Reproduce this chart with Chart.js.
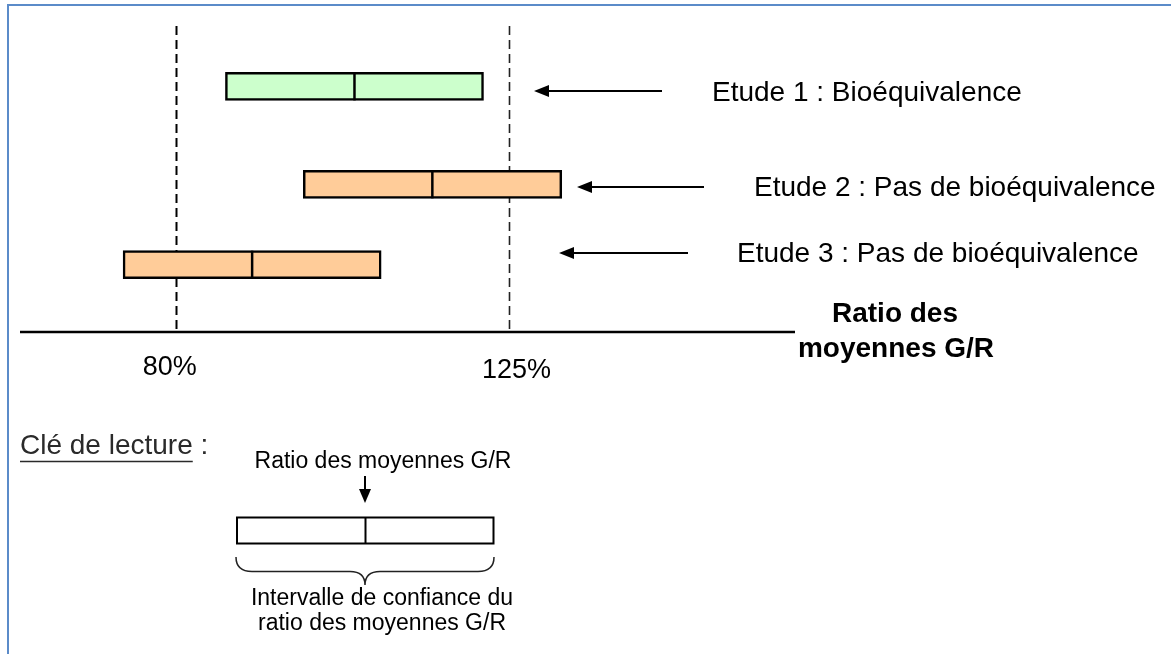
<!DOCTYPE html>
<html><head><meta charset="utf-8">
<script src="https://cdn.jsdelivr.net/npm/chart.js@4.4.1/dist/chart.umd.min.js"></script>
<style>html,body{margin:0;padding:0;background:#fff;overflow:hidden}
#wrap{position:relative;width:1171px;height:654px}</style></head>
<body><div id="wrap"><canvas id="c" width="1171" height="654"></canvas></div>
<script>
// ---- data ----
const studies = ['Etude 1 : Bioéquivalence', 'Etude 2 : Pas de bioéquivalence', 'Etude 3 : Pas de bioéquivalence'];
const ciLow = [86.7, 97.2, 72.9];
const ciHigh = [121.5, 132.05, 107.7];
const ratio = [104.1, 114.6, 90.3];
const limits = [80, 125];
const limitLabels = ['80%', '125%'];
const axisTitle = ['Ratio des', 'moyennes G/R'];
const keyTitle = 'Clé de lecture';
const keyRatioLabel = 'Ratio des moyennes G/R';
const keyCILabel = ['Intervalle de confiance du', 'ratio des moyennes G/R'];

// ---- layout / style ----
const fills = ['#ccffcc', '#ffcc99', '#ffcc99'];
const rowPos = [0.79, 2.07, 3.12];
const FONT = '"Liberation Sans", Arial, sans-serif';
const arrowLayout = [
  {tip: 534, tail: 662, y: 91, tx: 712, ty: 100.5},
  {tip: 577, tail: 704, y: 187, tx: 754, ty: 196},
  {tip: 559, tail: 688, y: 253, tx: 737, ty: 261.5}
];
const limitLabelOffset = [{dx: -6, y: 375}, {dx: 7, y: 378}];

function arrowLeft(ctx, tip, tail, y) {
  ctx.save();
  ctx.strokeStyle = '#000'; ctx.fillStyle = '#000'; ctx.lineWidth = 2;
  ctx.beginPath(); ctx.moveTo(tail, y); ctx.lineTo(tip + 12, y); ctx.stroke();
  ctx.beginPath(); ctx.moveTo(tip, y); ctx.lineTo(tip + 15, y - 6); ctx.lineTo(tip + 15, y + 6); ctx.closePath(); ctx.fill();
  ctx.restore();
}

const deco = {
  id: 'deco',
  beforeDatasetsDraw(chart) {
    const ctx = chart.ctx, xs = chart.scales.x, ca = chart.chartArea;
    ctx.save();
    limits.forEach((v, i) => {
      const x = Math.round(xs.getPixelForValue(v)) + 0.5;
      ctx.beginPath();
      ctx.setLineDash([9, 5]);
      ctx.lineWidth = i === 0 ? 2 : 1.6;
      ctx.strokeStyle = i === 0 ? '#000' : '#222';
      ctx.moveTo(x, ca.top); ctx.lineTo(x, ca.bottom);
      ctx.stroke();
    });
    ctx.restore();
  },
  afterDatasetsDraw(chart) {
    const ctx = chart.ctx, xs = chart.scales.x, ca = chart.chartArea;
    const meta = chart.getDatasetMeta(0);
    ctx.save();
    // ratio mid lines
    meta.data.forEach((el, i) => {
      const x = xs.getPixelForValue(ratio[i]);
      ctx.beginPath(); ctx.lineWidth = 2.5; ctx.strokeStyle = '#000';
      ctx.moveTo(x, el.y - el.height / 2); ctx.lineTo(x, el.y + el.height / 2); ctx.stroke();
    });
    // axis line
    ctx.beginPath(); ctx.lineWidth = 2.6; ctx.strokeStyle = '#000';
    ctx.moveTo(ca.left, ca.bottom); ctx.lineTo(ca.right, ca.bottom); ctx.stroke();
    // limit labels
    ctx.fillStyle = '#000'; ctx.textAlign = 'center'; ctx.textBaseline = 'alphabetic';
    ctx.font = '27px ' + FONT;
    limits.forEach((v, i) => {
      ctx.fillText(limitLabels[i], xs.getPixelForValue(v) + limitLabelOffset[i].dx, limitLabelOffset[i].y);
    });
    // axis title
    ctx.font = 'bold 28px ' + FONT;
    ctx.fillText(axisTitle[0], 895, 322);
    ctx.fillText(axisTitle[1], 896, 357);
    // arrows + study labels
    ctx.textAlign = 'left';
    ctx.font = '28px ' + FONT;
    arrowLayout.forEach((a, i) => {
      arrowLeft(ctx, a.tip, a.tail, a.y);
      ctx.fillStyle = '#000';
      ctx.fillText(studies[i], a.tx, a.ty);
    });
    // key
    ctx.fillStyle = '#2a2a2a';
    ctx.font = '28px ' + FONT;
    ctx.fillText(keyTitle, 20, 454);
    const w = ctx.measureText(keyTitle).width;
    ctx.fillText(' :', 20 + w, 454);
    ctx.beginPath(); ctx.lineWidth = 1.5; ctx.strokeStyle = '#2a2a2a';
    ctx.moveTo(20, 461.5); ctx.lineTo(20 + w, 461.5); ctx.stroke();

    ctx.fillStyle = '#000'; ctx.textAlign = 'center';
    ctx.font = '23px ' + FONT;
    ctx.fillText(keyRatioLabel, 383, 468);
    // small down arrow
    ctx.beginPath(); ctx.lineWidth = 2; ctx.strokeStyle = '#000';
    ctx.moveTo(365, 476); ctx.lineTo(365, 492); ctx.stroke();
    ctx.beginPath(); ctx.moveTo(365, 503); ctx.lineTo(359, 489); ctx.lineTo(371, 489); ctx.closePath(); ctx.fill();
    // key box
    ctx.lineWidth = 2; ctx.strokeStyle = '#000';
    ctx.strokeRect(237, 517.5, 256.5, 26);
    ctx.beginPath(); ctx.moveTo(365.5, 517.5); ctx.lineTo(365.5, 543.5); ctx.stroke();
    // brace
    ctx.beginPath(); ctx.lineWidth = 1.5; ctx.strokeStyle = '#222';
    ctx.moveTo(236, 557);
    ctx.quadraticCurveTo(236, 571.5, 252, 571.5);
    ctx.lineTo(350, 571.5);
    ctx.quadraticCurveTo(365, 571.5, 365, 585);
    ctx.quadraticCurveTo(365, 571.5, 380, 571.5);
    ctx.lineTo(478, 571.5);
    ctx.quadraticCurveTo(494, 571.5, 494, 557);
    ctx.stroke();
    ctx.fillText(keyCILabel[0], 382, 605);
    ctx.fillText(keyCILabel[1], 382, 630);
    // frame
    ctx.beginPath(); ctx.lineWidth = 2; ctx.strokeStyle = '#5b8bc9';
    ctx.moveTo(8, 654); ctx.lineTo(8, 5); ctx.lineTo(1171, 5); ctx.stroke();
    ctx.restore();
  }
};

new Chart(document.getElementById('c'), {
  type: 'bar',
  data: {
    datasets: [{
      data: ciLow.map((l, i) => ({x: [l, ciHigh[i]], y: rowPos[i]})),
      backgroundColor: fills,
      borderColor: '#000',
      borderWidth: 2.5,
      borderSkipped: false,
      barThickness: 28
    }]
  },
  options: {
    indexAxis: 'y',
    responsive: false,
    animation: false,
    events: [],
    layout: {padding: {left: 20, right: 376, top: 26, bottom: 322}},
    scales: {
      x: {type: 'linear', min: 59, max: 163.5, display: false, offset: false},
      y: {type: 'linear', min: 0, max: 4, reverse: true, display: false, offset: false}
    },
    plugins: {legend: {display: false}, tooltip: {enabled: false}}
  },
  plugins: [deco]
});
</script>
</body></html>
